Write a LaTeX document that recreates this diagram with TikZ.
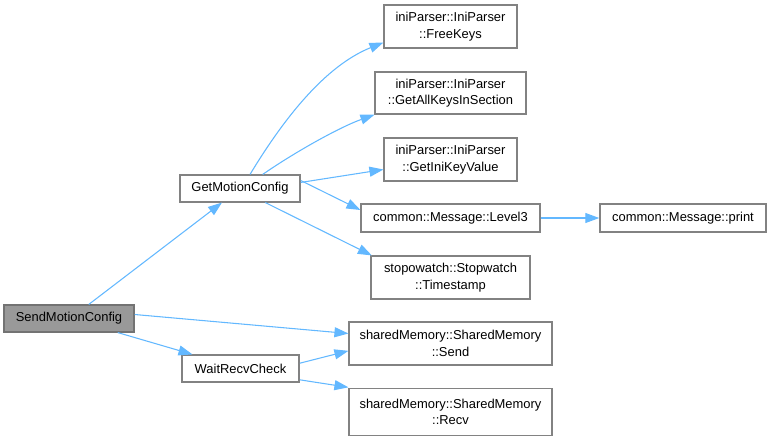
\documentclass[tikz,border=0pt]{standalone}
\usepackage{fontspec}
\setmainfont{Liberation Sans}
\usetikzlibrary{arrows.meta}

\definecolor{edgeblue}{HTML}{63B8FF}
\definecolor{boxgray}{HTML}{999999}

\begin{document}
\begin{tikzpicture}[x=0.75pt,y=-0.75pt,
  fn/.style={draw=boxgray!85!black, line width=1.1pt, fill=white, inner sep=0pt, align=center,
    font=\fontsize{9.7}{12.4}\selectfont},
  root/.style={fn, fill=boxgray, draw=boxgray!75!black},
  call/.style={edgeblue, line width=0.8pt, -{Triangle[length=10.5pt,width=7.5pt]}}]
  \useasboundingbox (0,0) rectangle (771,437);
  % callers
  \node[root, minimum width=97.5pt, minimum height=20pt] (smc) at (69,318.5) {SendMotionConfig};
  \node[fn, minimum width=90pt, minimum height=20pt] (gmc) at (240,188.5) {GetMotionConfig};
  \node[fn, minimum width=88pt, minimum height=20pt] (wrc) at (240.5,368.5) {WaitRecvCheck};
  % callees
  \node[fn, minimum width=99.5pt, minimum height=32pt] (fk) at (450.5,26.5) {iniParser::IniParser\\::FreeKeys};
  \node[fn, minimum width=113pt, minimum height=31.5pt] (gak) at (450.5,93) {iniParser::IniParser\\::GetAllKeysInSection};
  \node[fn, minimum width=99.5pt, minimum height=32pt] (gik) at (450.5,159.5) {iniParser::IniParser\\::GetIniKeyValue};
  \node[fn, minimum width=134pt, minimum height=21pt] (lv3) at (450.5,218) {common::Message::Level3};
  \node[fn, minimum width=124.5pt, minimum height=21pt] (prt) at (683,218) {common::Message::print};
  \node[fn, minimum width=119pt, minimum height=32pt] (ts) at (450.5,277.5) {stopowatch::Stopwatch\\::Timestamp};
  \node[fn, minimum width=152pt, minimum height=32pt] (snd) at (450.5,343.5) {sharedMemory::SharedMemory\\::Send};
  \node[fn, minimum width=152pt, minimum height=35pt] (rcv) at (450.5,412) {sharedMemory::SharedMemory\\::Recv};
  % calls
  \draw[call] (smc.north east) ++(-46,0) -- ([xshift=-13.5pt]gmc.south);
  \draw[call] ([yshift=3pt]smc.east) -- ([yshift=7.5pt]snd.west);
  \draw[call] (smc.south east) ++(-17,0) -- ([xshift=-36pt]wrc.north);
  \draw[call] ([xshift=7.5pt]gmc.north) .. controls (295,100) and (335,62) .. ([yshift=-12pt]fk.west);
  \draw[call] ([xshift=17pt]gmc.north) .. controls (295,152) and (340,127) .. (gak.south west);
  \draw[call] ([yshift=-6pt]gmc.north east) -- ([yshift=-7.5pt]gik.west);
  \draw[call] ([yshift=6pt]gmc.east) -- ([yshift=6pt]lv3.west);
  \draw[call] ([xshift=19pt]gmc.south) -- ([xshift=-59pt]ts.north);
  \draw[call] (lv3) -- (prt);
  \draw[call] ([yshift=4pt]wrc.east) -- ([yshift=-5.5pt]snd.west);
  \draw[call] ([yshift=-8.5pt]wrc.east) -- ([yshift=18.5pt]rcv.west);
\end{tikzpicture}
\end{document}
